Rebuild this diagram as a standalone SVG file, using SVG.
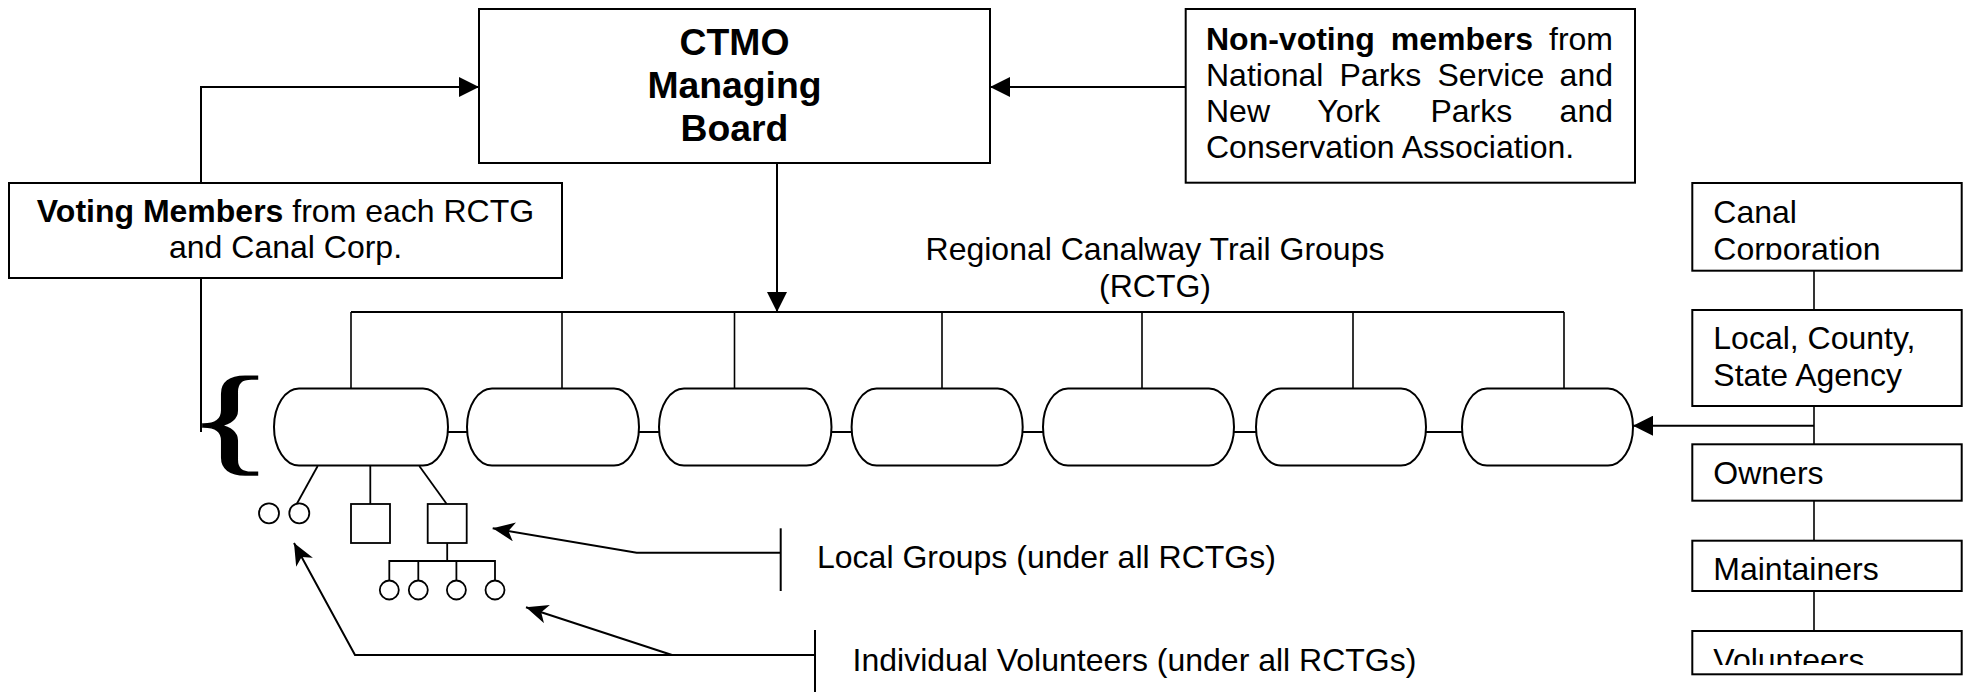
<svg xmlns="http://www.w3.org/2000/svg" width="1967" height="692" viewBox="0 0 1967 692">
<style>
.box{fill:#fff;stroke:#000;stroke-width:2}
.pill{fill:#fff;stroke:#000;stroke-width:2}
.ln{fill:none;stroke:#000;stroke-width:2}
.thin{fill:none;stroke:#000;stroke-width:1.6}
.t{font-family:"Liberation Sans",Arial,sans-serif;font-size:32px;fill:#000}
.b{font-weight:bold}
.title{font-family:"Liberation Sans",Arial,sans-serif;font-size:37.33px;font-weight:bold;fill:#000}
.sym{fill:#fff;stroke:#000;stroke-width:1.8}
</style>
<defs>
<marker id="tri" markerUnits="userSpaceOnUse" markerWidth="21" markerHeight="20" refX="20" refY="10" orient="auto">
<path d="M0,0 L20,10 L0,20 z" fill="#000"/>
</marker>
<marker id="stealth" markerUnits="userSpaceOnUse" markerWidth="23" markerHeight="20" refX="22" refY="9.5" orient="auto">
<path d="M22,9.5 L0,0 L6,9.5 L0,19 z" fill="#000"/>
</marker>
<clipPath id="clipCanal"><rect x="1693" y="184" width="268" height="75.7"/></clipPath>
<clipPath id="clipVol"><rect x="1693" y="632" width="268" height="33"/></clipPath>
</defs>

<g id="connectors">
<polyline class="ln" points="201,183 201,87 479,87" marker-end="url(#tri)"/>
<line class="ln" x1="201" y1="278" x2="201" y2="432"/>
<line class="ln" x1="1185.7" y1="87" x2="990" y2="87" marker-end="url(#tri)"/>
<line class="ln" x1="777" y1="163" x2="777" y2="312" marker-end="url(#tri)"/>
<line class="ln" x1="351" y1="312" x2="1564" y2="312"/>
<line class="thin" x1="351" y1="312" x2="351" y2="388.5"/>
<line class="thin" x1="562" y1="312" x2="562" y2="388.5"/>
<line class="thin" x1="734.5" y1="312" x2="734.5" y2="388.5"/>
<line class="thin" x1="942" y1="312" x2="942" y2="388.5"/>
<line class="thin" x1="1142" y1="312" x2="1142" y2="388.5"/>
<line class="thin" x1="1353" y1="312" x2="1353" y2="388.5"/>
<line class="thin" x1="1564" y1="312" x2="1564" y2="388.5"/>
<line class="ln" x1="448" y1="432" x2="467" y2="432"/>
<line class="ln" x1="639" y1="432" x2="659" y2="432"/>
<line class="ln" x1="831.5" y1="432" x2="851.6" y2="432"/>
<line class="ln" x1="1022.7" y1="432" x2="1043" y2="432"/>
<line class="ln" x1="1234" y1="432" x2="1256" y2="432"/>
<line class="ln" x1="1426" y1="432" x2="1462" y2="432"/>
<line class="thin" x1="1814" y1="270.7" x2="1814" y2="631"/>
<line class="ln" x1="1814" y1="425.7" x2="1633" y2="425.7" marker-end="url(#tri)"/>
<polyline class="ln" points="780.7,552.7 636.7,552.7 492.7,528.3" marker-end="url(#stealth)"/>
<line class="ln" x1="780.7" y1="528.3" x2="780.7" y2="591"/>
<polyline class="ln" points="815,655 355,655 294,543" marker-end="url(#stealth)"/>
<line class="ln" x1="672" y1="655" x2="526" y2="607.3" marker-end="url(#stealth)"/>
<line class="ln" x1="815" y1="630" x2="815" y2="692"/>
</g>

<g id="ctmo">
<rect class="box" x="479" y="9" width="511" height="154"/>
<text class="title" x="734.5" y="55" text-anchor="middle">CTMO</text>
<text class="title" x="734.5" y="98" text-anchor="middle">Managing</text>
<text class="title" x="734.5" y="140.5" text-anchor="middle">Board</text>
</g>

<g id="voting">
<rect class="box" x="9" y="183" width="553" height="95"/>
<text class="t" x="285.5" y="222" text-anchor="middle"><tspan class="b">Voting Members</tspan> from each RCTG</text>
<text class="t" x="285.5" y="258" text-anchor="middle">and Canal Corp.</text>
</g>

<g id="nonvoting">
<rect class="box" x="1185.7" y="9" width="449.3" height="173.7"/>
<text class="t b" x="1206" y="49.5">Non-voting</text>
<text class="t b" x="1390.8" y="49.5">members</text>
<text class="t" x="1613" y="49.5" text-anchor="end">from</text>
<text class="t" x="1206" y="86">National</text>
<text class="t" x="1339.5" y="86">Parks</text>
<text class="t" x="1437.5" y="86">Service</text>
<text class="t" x="1613" y="86" text-anchor="end">and</text>
<text class="t" x="1206" y="122">New</text>
<text class="t" x="1317.3" y="122">York</text>
<text class="t" x="1430.4" y="122">Parks</text>
<text class="t" x="1613" y="122" text-anchor="end">and</text>
<text class="t" x="1206" y="158">Conservation Association.</text>
</g>

<g id="rctg-label">
<text class="t" x="1155" y="260" text-anchor="middle">Regional Canalway Trail Groups</text>
<text class="t" x="1155" y="296.7" text-anchor="middle">(RCTG)</text>
</g>

<g id="brace">
<text transform="translate(187,459) scale(1.55,1.02)" font-family="'Liberation Serif','Times New Roman',serif" font-size="116" fill="#000" stroke="#000" stroke-width="1.6">{</text>
</g>

<g id="rctg-1"><rect class="pill" x="274" y="388.5" width="174" height="77" rx="25" ry="38.5"/></g>
<g id="rctg-2"><rect class="pill" x="467" y="388.5" width="172" height="77" rx="25" ry="38.5"/></g>
<g id="rctg-3"><rect class="pill" x="659" y="388.5" width="172.5" height="77" rx="25" ry="38.5"/></g>
<g id="rctg-4"><rect class="pill" x="851.6" y="388.5" width="171.1" height="77" rx="25" ry="38.5"/></g>
<g id="rctg-5"><rect class="pill" x="1043" y="388.5" width="191" height="77" rx="25" ry="38.5"/></g>
<g id="rctg-6"><rect class="pill" x="1256" y="388.5" width="170" height="77" rx="25" ry="38.5"/></g>
<g id="rctg-7"><rect class="pill" x="1462" y="388.5" width="171" height="77" rx="25" ry="38.5"/></g>

<g id="local-groups-symbols">
<line class="sym" x1="317.7" y1="466" x2="297" y2="503.5"/>
<circle class="sym" cx="269" cy="513.3" r="10"/>
<circle class="sym" cx="299.3" cy="513.3" r="10"/>
<line class="sym" x1="370.3" y1="466" x2="370.3" y2="504"/>
<rect class="sym" x="351" y="504" width="39" height="39"/>
<line class="sym" x1="419.3" y1="466" x2="446.7" y2="504"/>
<rect class="sym" x="427.7" y="504" width="39" height="39"/>
<polyline class="sym" points="447.2,543 447.2,561"/>
<polyline class="sym" points="389.3,580.7 389.3,561 495,561 495,580.7"/>
<line class="sym" x1="418.3" y1="561" x2="418.3" y2="580.7"/>
<line class="sym" x1="456.4" y1="561" x2="456.4" y2="580.7"/>
<circle class="sym" cx="389.3" cy="590" r="9.5"/>
<circle class="sym" cx="418.3" cy="590" r="9.5"/>
<circle class="sym" cx="456.4" cy="590" r="9.5"/>
<circle class="sym" cx="495" cy="590" r="9.5"/>
</g>

<g id="local-groups-label">
<text class="t" x="817" y="568.3">Local Groups (under all RCTGs)</text>
</g>
<g id="volunteers-label">
<text class="t" x="852.6" y="670.7">Individual Volunteers (under all RCTGs)</text>
</g>

<g id="canal-corporation">
<rect class="box" x="1692.3" y="183" width="269.4" height="87.7"/>
<g clip-path="url(#clipCanal)">
<text class="t" x="1713.3" y="223">Canal</text>
<text class="t" x="1713.3" y="259.7">Corporation</text>
</g>
</g>
<g id="agency">
<rect class="box" x="1692.3" y="310" width="269.4" height="96"/>
<text class="t" x="1713.3" y="349.3">Local, County,</text>
<text class="t" x="1713.3" y="385.7">State Agency</text>
</g>
<g id="owners">
<rect class="box" x="1692.3" y="444.3" width="269.4" height="56.4"/>
<text class="t" x="1713.3" y="484">Owners</text>
</g>
<g id="maintainers">
<rect class="box" x="1692.3" y="540.7" width="269.4" height="50.3"/>
<text class="t" x="1713.3" y="580">Maintainers</text>
</g>
<g id="volunteers">
<rect class="box" x="1692.3" y="631" width="269.4" height="43.3"/>
<g clip-path="url(#clipVol)">
<text class="t" x="1713.3" y="671">Volunteers</text>
</g>
</g>
</svg>
